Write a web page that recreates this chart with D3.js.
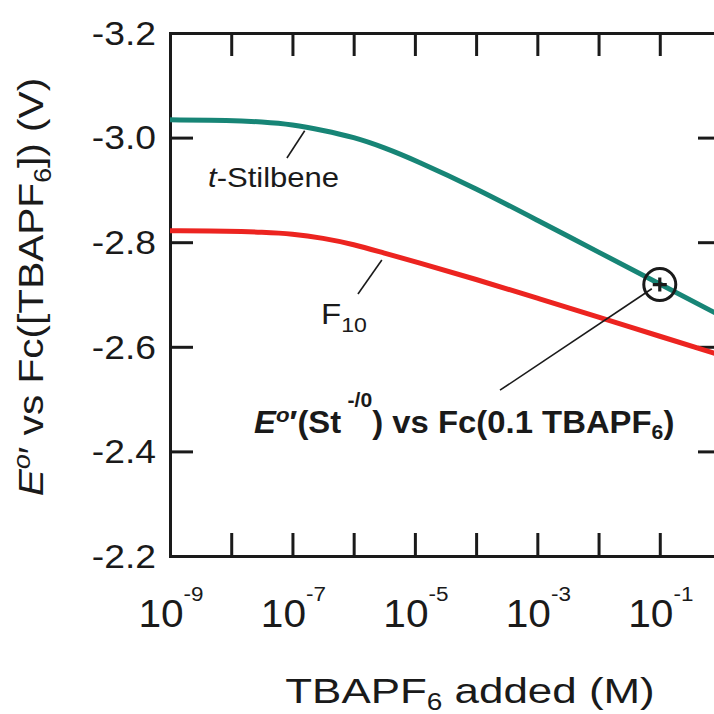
<!DOCTYPE html>
<html>
<head>
<meta charset="utf-8">
<script src="https://cdn.jsdelivr.net/npm/d3@7"></script>
<style>
  body { margin: 0; background: #fff; }
  svg { display: block; }
  text { font-family: "Liberation Sans", Arial, Helvetica, sans-serif; fill: #1a1a1a; }
</style>
</head>
<body>
<div id="container"></div>
<script>
// log10 of TBAPF6 concentration (M)
const logConc = [-9, -8, -7.5, -7, -6.5, -6, -5.5, -5, -4, -3, -2, -1, 0];
// E°' vs Fc([TBAPF6]) (V)
const stilbene = [-3.034, -3.033, -3.030, -3.025, -3.014, -3.001, -2.981, -2.957, -2.903, -2.842, -2.781, -2.720, -2.659];
const f10 = [-2.822, -2.821, -2.819, -2.816, -2.808, -2.796, -2.779, -2.763, -2.729, -2.693, -2.657, -2.620, -2.584];

const yTicks = [-3.2, -3.0, -2.8, -2.6, -2.4, -2.2];
const xTicks = [-9, -8, -7, -6, -5, -4, -3, -2, -1, 0];
const xTickLabels = [-9, -7, -5, -3, -1];

// marked point: St-/0 at 0.1 M TBAPF6
const refPoint = { log: -1, e: -2.719 };

const w = 714, h = 714;
const padLeft = 170, padRight = 721, padTop = 33, padBottom = 556;

const svg = d3.select('#container')
  .append('svg')
  .attr('width', w)
  .attr('height', h);

const xScale = d3.scaleLog()
  .domain([1e-9, 1])
  .range([padLeft, padRight]);

const yScale = d3.scaleLinear()
  .domain([-3.2, -2.2])
  .range([padTop, padBottom]);

const tickVals = xTicks.map(d => Math.pow(10, d));

// frame with inward ticks on all four sides
const styleAxis = g => {
  g.selectAll('path, line').attr('stroke', '#1a1a1a').attr('stroke-width', 3);
  g.select('.domain').attr('stroke-linecap', 'square');
};

svg.append('g')
  .attr('transform', 'translate(0,' + padBottom + ')')
  .call(d3.axisBottom(xScale).tickValues(tickVals).tickSizeInner(-23).tickSizeOuter(0).tickFormat(''))
  .call(styleAxis);

svg.append('g')
  .attr('transform', 'translate(0,' + padTop + ')')
  .call(d3.axisTop(xScale).tickValues(tickVals).tickSizeInner(-23).tickSizeOuter(0).tickFormat(''))
  .call(styleAxis);

svg.append('g')
  .attr('transform', 'translate(' + padLeft + ',0)')
  .call(d3.axisLeft(yScale).tickValues(yTicks).tickSizeInner(-23).tickSizeOuter(0).tickFormat(''))
  .call(styleAxis);

svg.append('g')
  .attr('transform', 'translate(' + padRight + ',0)')
  .call(d3.axisRight(yScale).tickValues(yTicks).tickSizeInner(-23).tickSizeOuter(0).tickFormat(''))
  .call(styleAxis);

// y tick labels
svg.append('g').selectAll('text')
  .data(yTicks)
  .join('text')
  .attr('transform', d => 'translate(156,' + yScale(d) + ') scale(1.13,1)')
  .attr('dy', '0.36em')
  .attr('text-anchor', 'end')
  .style('font-size', '33px')
  .text(d => d.toFixed(1));

// x tick labels 10^n
const xl = svg.append('g').selectAll('text')
  .data(xTickLabels)
  .join('text')
  .attr('transform', d => 'translate(' + (xScale(Math.pow(10, d)) + 1) + ',627) scale(1.07,1)')
  .attr('text-anchor', 'middle')
  .style('font-size', '38px');
xl.append('tspan').text('10');
xl.append('tspan').attr('dy', -26).style('font-size', '21px').text(d => '-' + Math.abs(d));

// curves
const line = d3.line()
  .x((d, i) => xScale(Math.pow(10, logConc[i])))
  .y(d => yScale(d))
  .curve(d3.curveBasis);

svg.append('path')
  .attr('d', line(stilbene))
  .attr('fill', 'none')
  .attr('stroke', '#178576')
  .attr('stroke-width', 5);

svg.append('path')
  .attr('d', line(f10))
  .attr('fill', 'none')
  .attr('stroke', '#ec2420')
  .attr('stroke-width', 5);

// leader lines (data coordinates: log10 conc, E)
const leaders = [
  [[-7.09, -2.961], [-6.80, -3.013]],
  [[-5.93, -2.701], [-5.54, -2.766]],
  [[-3.61, -2.517], [-1.13, -2.711]]
];
svg.append('g').selectAll('line')
  .data(leaders)
  .join('line')
  .attr('x1', d => xScale(Math.pow(10, d[0][0])))
  .attr('y1', d => yScale(d[0][1]))
  .attr('x2', d => xScale(Math.pow(10, d[1][0])))
  .attr('y2', d => yScale(d[1][1]))
  .attr('stroke', '#1a1a1a')
  .attr('stroke-width', 1.6);

// circled plus marker
const cx = xScale(Math.pow(10, refPoint.log)), cy = yScale(refPoint.e);
svg.append('circle')
  .attr('cx', cx).attr('cy', cy).attr('r', 16)
  .attr('fill', 'none').attr('stroke', '#1a1a1a').attr('stroke-width', 3);
svg.append('path')
  .attr('d', 'M' + (cx - 7) + ',' + cy + 'H' + (cx + 7) + 'M' + cx + ',' + (cy - 7) + 'V' + (cy + 7))
  .attr('stroke', '#1a1a1a').attr('stroke-width', 3.2);

// curve labels
const st = svg.append('text')
  .attr('transform', 'translate(208,187) scale(1.15,1)')
  .style('font-size', '27px');
st.append('tspan').style('font-style', 'italic').text('t');
st.append('tspan').text('-Stilbene');

const fl = svg.append('text')
  .attr('transform', 'translate(321,324) scale(1.1,1)')
  .style('font-size', '30px');
fl.append('tspan').text('F');
fl.append('tspan').attr('dy', 8).style('font-size', '21px').text('10');

// bold annotation
const an = svg.append('text')
  .attr('transform', 'translate(254,433) scale(1.06,1)')
  .style('font-size', '31px')
  .style('font-weight', 'bold');
an.append('tspan').style('font-style', 'italic').text('E');
an.append('tspan').attr('dy', -11).style('font-style', 'italic').style('font-size', '21px').text('o');
an.append('tspan').attr('dy', 11).text('\u2032(St');
an.append('tspan').attr('dy', -26).attr('dx', 6).style('font-size', '20px').text('-/0');
an.append('tspan').attr('dy', 26).text(') vs Fc(0.1 TBAPF');
an.append('tspan').attr('dy', 6).style('font-size', '20px').text('6');
an.append('tspan').attr('dy', -6).text(')');

// x axis title
const xt = svg.append('text')
  .attr('transform', 'translate(470,703) scale(1.22,1)')
  .attr('text-anchor', 'middle')
  .style('font-size', '36px');
xt.append('tspan').text('TBAPF');
xt.append('tspan').attr('dy', 7).style('font-size', '23px').text('6');
xt.append('tspan').attr('dy', -7).text(' added (M)');

// y axis title
const yt = svg.append('text')
  .attr('transform', 'translate(43,287) rotate(-90) scale(1.16,1)')
  .attr('text-anchor', 'middle')
  .style('font-size', '35px');
yt.append('tspan').style('font-style', 'italic').text('E');
yt.append('tspan').attr('dy', -13).style('font-style', 'italic').style('font-size', '23px').text('o');
yt.append('tspan').attr('dy', 13).text('\u2032 vs Fc([TBAPF');
yt.append('tspan').attr('dy', 8).style('font-size', '23px').text('6');
yt.append('tspan').attr('dy', -8).text(']) (V)');
</script>
</body>
</html>
